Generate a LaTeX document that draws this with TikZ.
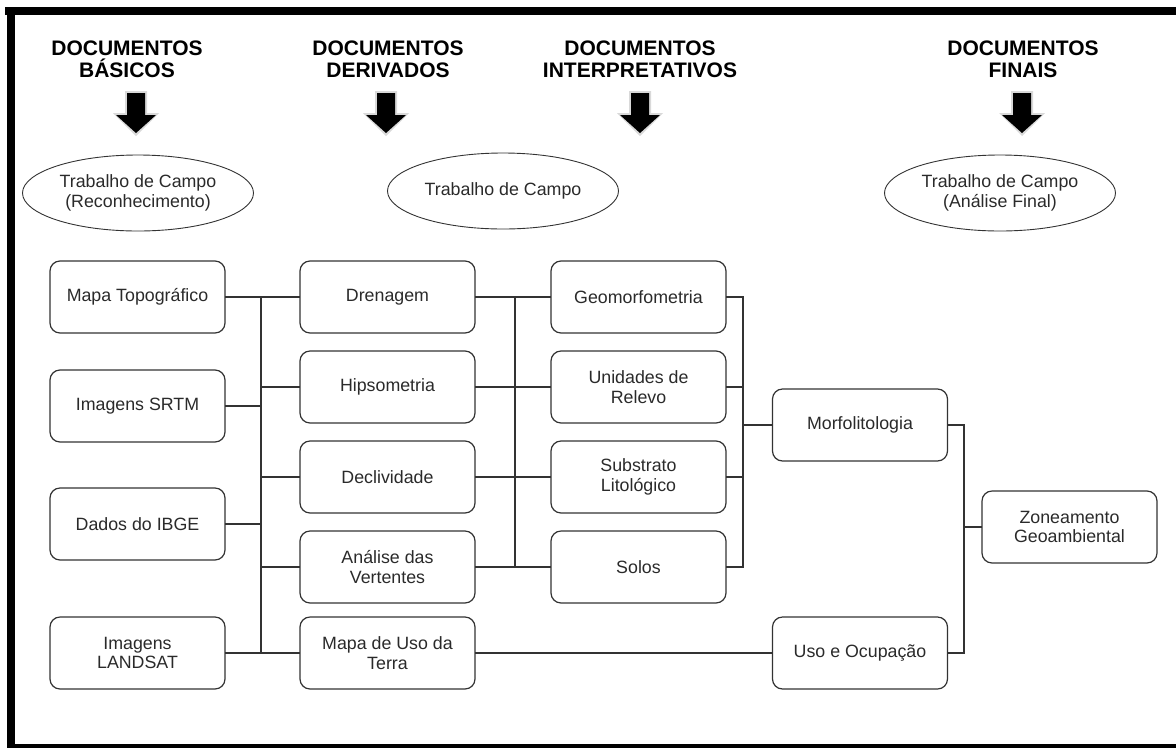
\documentclass[tikz,border=0pt]{standalone}
\usepackage{fontspec}
\setmainfont{Liberation Sans}
\usetikzlibrary{shapes.geometric}
\usetikzlibrary{positioning}

\definecolor{linha}{HTML}{333333}
\definecolor{texto}{HTML}{2A2A2A}

\begin{document}
\begin{tikzpicture}[x=1pt, y=-1pt]
    \tikzset{
        caixa/.style={draw=linha, line width=1.2pt, rounded corners=10pt, minimum width=175pt, minimum height=72pt, inner sep=0pt, align=center, text=texto, font=\fontsize{17.8}{19.5}\selectfont},
        elipse/.style={draw=linha, line width=0.9pt, ellipse, minimum width=231pt, minimum height=76pt, inner sep=0pt, align=center, text=texto, font=\fontsize{17.8}{19.5}\selectfont},
        titulo/.style={align=center, text=black, font=\bfseries\fontsize{21}{22}\selectfont},
        ligacao/.style={draw=linha, line width=1.3pt, line cap=rect}
    }

    \useasboundingbox (0,0) rectangle (1176,748);

    % moldura
    \fill (5,7) rectangle (1176,15);
    \fill (7,7) rectangle (15,748);
    \fill (7,744) rectangle (1176,748);

    % titulos
    \node [titulo] (tBas) at (127,59) {DOCUMENTOS\\BÁSICOS};
    \node [titulo] (tDer) at (388,59) {DOCUMENTOS\\DERIVADOS};
    \node [titulo] (tInt) at (640,59) {DOCUMENTOS\\INTERPRETATIVOS};
    \node [titulo] (tFin) at (1023,59) {DOCUMENTOS\\FINAIS};

    % setas
    \foreach \cx in {136, 386, 640, 1022} {
        \fill [black!15] (\cx-11,91) -- (\cx+11,91) -- (\cx+11,113) -- (\cx+23,113) -- (\cx,136) -- (\cx-23,113) -- (\cx-11,113) -- cycle;
        \fill [black] (\cx-9,93) -- (\cx+9,93) -- (\cx+9,115) -- (\cx+20,115) -- (\cx,133) -- (\cx-20,115) -- (\cx-9,115) -- cycle;
    }

    % trabalho de campo
    \node [elipse] (campoA) at (138,193) {Trabalho de Campo\\(Reconhecimento)};
    \node [elipse] (campoB) at (503,191) {Trabalho de Campo};
    \node [elipse] (campoC) at (1000,193) {Trabalho de Campo\\(Análise Final)};

    % documentos basicos
    \node [caixa] (mapa) at (137.5,297) {Mapa Topográfico};
    \node [caixa] (srtm) at (137.5,406) {Imagens SRTM};
    \node [caixa] (ibge) at (137.5,524) {Dados do IBGE};
    \node [caixa] (landsat) at (137.5,653) {Imagens\\LANDSAT};

    % documentos derivados
    \node [caixa] (dren) at (387.5,297) {Drenagem};
    \node [caixa] (hips) at (387.5,387) {Hipsometria};
    \node [caixa] (decl) at (387.5,477) {Declividade};
    \node [caixa] (anal) at (387.5,567) {Análise das\\Vertentes};
    \node [caixa] (terra) at (387.5,653) {Mapa de Uso da\\Terra};

    % documentos interpretativos
    \node [caixa] (geo) at (638.5,297) {Geomorfometria};
    \node [caixa] (unid) at (638.5,387) {Unidades de\\Relevo};
    \node [caixa] (subs) at (638.5,477) {Substrato\\Litológico};
    \node [caixa] (solos) at (638.5,567) {Solos};

    % documentos finais
    \node [caixa] (morf) at (860,425) {Morfolitologia};
    \node [caixa] (usoOc) at (860,653) {Uso e Ocupação};
    \node [caixa] (zon) at (1069.5,527) {Zoneamento\\Geoambiental};

    \coordinate (barraA) at (261,0);
    \coordinate (barraB) at (515,0);
    \coordinate (barraC) at (743,0);
    \coordinate (barraD) at (964,0);

    % basicos -> derivados
    \foreach \n in {mapa, srtm, ibge, landsat}
        \draw [ligacao] (\n.east) -- (\n.east -| barraA);
    \draw [ligacao] (mapa.east -| barraA) -- (landsat.east -| barraA);
    \foreach \n in {dren, hips, decl, anal, terra}
        \draw [ligacao] (barraA |- \n.west) -- (\n.west);

    % derivados -> interpretativos
    \foreach \n in {dren, hips, decl, anal}
        \draw [ligacao] (\n.east) -- (\n.east -| barraB);
    \draw [ligacao] (dren.east -| barraB) -- (anal.east -| barraB);
    \foreach \n in {geo, unid, subs, solos}
        \draw [ligacao] (barraB |- \n.west) -- (\n.west);
    \draw [ligacao] (terra.east) -- (usoOc.west);

    % interpretativos -> finais
    \foreach \n in {geo, unid, subs, solos}
        \draw [ligacao] (\n.east) -- (\n.east -| barraC);
    \draw [ligacao] (geo.east -| barraC) -- (solos.east -| barraC);
    \draw [ligacao] (barraC |- morf.west) -- (morf.west);

    \draw [ligacao] (morf.east) -- (morf.east -| barraD);
    \draw [ligacao] (usoOc.east) -- (usoOc.east -| barraD);
    \draw [ligacao] (morf.east -| barraD) -- (usoOc.east -| barraD);
    \draw [ligacao] (barraD |- zon.west) -- (zon.west);

\end{tikzpicture}
\end{document}
